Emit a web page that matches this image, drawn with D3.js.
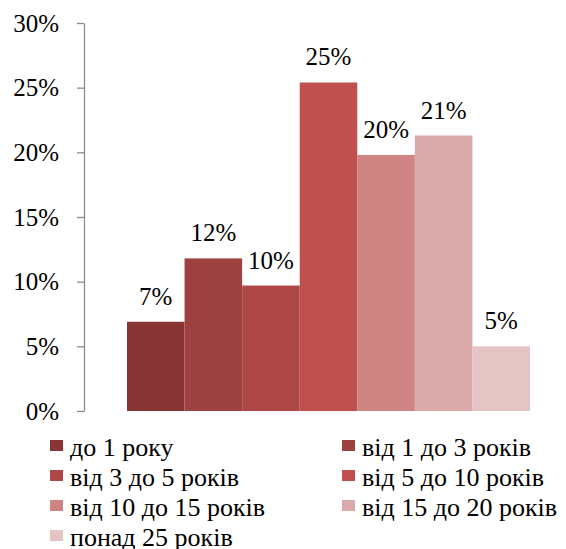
<!DOCTYPE html>
<meta charset="utf-8">
<style>
  body { margin: 0; background: #fff; }
</style>
<script src="https://d3js.org/d3.v7.js"></script>
<div id="my_dataviz"></div>
<script>

// data
var categories = ["до 1 року", "від 1 до 3 років", "від 3 до 5 років", "від 5 до 10 років",
                  "від 10 до 15 років", "від 15 до 20 років", "понад 25 років"];
var values = [6.9, 11.8, 9.7, 25.4, 19.8, 21.3, 5.0];
var labels = ["7%", "12%", "10%", "25%", "20%", "21%", "5%"];
var yTicks = [0, 5, 10, 15, 20, 25, 30];
var colors = ["#893535", "#9e4241", "#ae4847", "#c0504d", "#cd8482", "#daa9a9", "#e4c4c5"];

var font = "Liberation Serif";
var W = 566, H = 549;
var svg = d3.select("#my_dataviz")
  .append("svg")
    .attr("width", W)
    .attr("height", H);

// y scale: 0% at 411, 30% at 23
var y = d3.scaleLinear()
  .domain([0, 30])
  .range([411, 23]);

// bars share one category, so a band per series
var x = d3.scaleBand()
  .domain(categories)
  .range([127, 530])
  .padding(0);

// y axis
var yAxis = svg.append("g")
  .attr("transform", "translate(84,0)")
  .call(d3.axisLeft(y).tickValues(yTicks).tickSize(7).tickSizeOuter(0)
    .tickFormat(function(d) { return d + "%"; }));
yAxis.select(".domain").attr("stroke", "#8c8c8c").attr("stroke-width", 1.3);
yAxis.selectAll(".tick line").attr("stroke", "#8c8c8c").attr("stroke-width", 1.3);
yAxis.selectAll(".tick text")
  .attr("x", -25)
  .attr("dy", "0.32em")
  .style("font-size", "25px")
  .style("font-family", font)
  .attr("fill", "#000");

// bars
svg.append("g")
  .selectAll("rect")
  .data(values)
  .enter()
  .append("rect")
    .attr("x", function(d, i) { return x(categories[i]); })
    .attr("y", function(d) { return y(d); })
    .attr("width", x.bandwidth())
    .attr("height", function(d) { return y(0) - y(d); })
    .attr("fill", function(d, i) { return colors[i]; });

// value labels
svg.append("g")
  .selectAll("text")
  .data(values)
  .enter()
  .append("text")
    .attr("x", function(d, i) { return x(categories[i]) + x.bandwidth() / 2; })
    .attr("y", function(d) { return y(d) - 17; })
    .attr("text-anchor", "middle")
    .style("font-size", "25px")
    .style("font-family", font)
    .text(function(d, i) { return labels[i]; });

// legend, two columns
var legend = svg.append("g")
  .selectAll("g")
  .data(categories)
  .enter()
  .append("g")
    .attr("transform", function(d, i) {
      return "translate(" + (i % 2 ? 342 : 50) + "," + (456 + Math.floor(i / 2) * 30) + ")";
    });

legend.append("rect")
  .attr("x", 0)
  .attr("y", -16)
  .attr("width", 13)
  .attr("height", 11)
  .attr("fill", function(d, i) { return colors[i]; });

legend.append("text")
  .attr("x", 20)
  .attr("y", 0)
  .style("font-size", "26px")
  .style("font-family", font)
  .text(function(d) { return d; });

</script>
